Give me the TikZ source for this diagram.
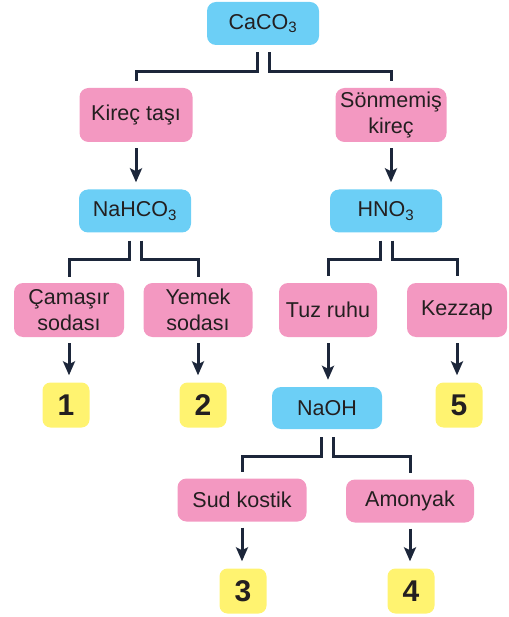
\documentclass[tikz,border=0pt]{standalone}
\usepackage{fontspec}
\setmainfont{Liberation Sans}
\usepackage{xcolor}
\usetikzlibrary{arrows.meta}
\definecolor{boxblue}{RGB}{108,207,246}
\definecolor{boxpink}{RGB}{243,152,193}
\definecolor{boxyellow}{RGB}{255,243,112}
\definecolor{linkcol}{RGB}{28,38,58}
\definecolor{textcol}{RGB}{35,31,32}

\begin{document}
\begin{tikzpicture}[x=1pt,y=-1pt,
    box/.style={rounded corners=9pt, inner sep=0pt, align=center, text=textcol, font=\fontsize{21.5}{26}\selectfont},
    chem/.style={box, fill=boxblue, minimum width=112pt, minimum height=43pt},
    common/.style={box, fill=boxpink, minimum height=54pt},
    num/.style={box, fill=boxyellow, minimum width=47pt, minimum height=45pt, rounded corners=8pt, font=\fontsize{30}{30}\selectfont\bfseries},
    link/.style={draw=linkcol, line width=3pt},
    flow/.style={link, -{Stealth[length=14pt,width=12pt,inset=3pt]}, shorten <=6pt, shorten >=7pt}]
                        \useasboundingbox (0,0) rectangle (508,617);
                        \node[chem] (caco3) at (263, 23.5) {CaCO\textsubscript{3}};
                        \node[common, minimum width=113pt] (kirec) at (136, 115) {Kireç taşı};
                        \node[common, minimum width=111pt] (sonm) at (391, 115) {Sönmemiş\\kireç};
                        \node[chem] (nahco3) at (135, 211) {NaHCO\textsubscript{3}};
                        \node[chem] (hno3) at (386, 211) {HNO\textsubscript{3}};
                        \node[common, minimum width=110pt] (cam) at (69, 310) {Çamaşır\\sodası};
                        \node[common, minimum width=109pt] (yemek) at (198, 310) {Yemek\\sodası};
                        \node[common, minimum width=98pt] (tuz) at (328, 310) {Tuz ruhu};
                        \node[common, minimum width=100pt] (kezzap) at (457, 310) {Kezzap};
                        \node[num] (n1) at (66, 405) {1};
                        \node[num] (n2) at (203, 405) {2};
                        \node[num] (n5) at (459, 405) {5};
                        \node[chem, minimum width=110pt, minimum height=42pt] (naoh) at (327, 408) {NaOH};
                        \node[common, minimum width=129pt, minimum height=43pt] (sud) at (242, 500) {Sud kostik};
                        \node[common, minimum width=128pt, minimum height=43pt] (amonyak) at (410, 501) {Amonyak};
                        \node[num] (n3) at (243, 591) {3};
                        \node[num] (n4) at (411, 591) {4};
                        % branches
                        \draw[link] ([xshift=-6pt,yshift=-7pt]caco3.south) -- ++(0,19) -| ([yshift=7pt]kirec.north);
                        \draw[link] ([xshift=6pt,yshift=-7pt]caco3.south) -- ++(0,19) -| ([yshift=7pt]sonm.north);
                        \draw[link] ([xshift=-6pt,yshift=-8pt]nahco3.south) -- ++(0,19) -| ([yshift=6pt]cam.north);
                        \draw[link] ([xshift=6pt,yshift=-8pt]nahco3.south) -- ++(0,19) -| ([yshift=6pt]yemek.north);
                        \draw[link] ([xshift=-6pt,yshift=-8pt]hno3.south) -- ++(0,19) -| ([yshift=7pt]tuz.north);
                        \draw[link] ([xshift=6pt,yshift=-8pt]hno3.south) -- ++(0,19) -| ([yshift=7pt]kezzap.north);
                        \draw[link] ([xshift=-6pt,yshift=-8pt]naoh.south) -- ++(0,19) -| ([yshift=6pt]sud.north);
                        \draw[link] ([xshift=6pt,yshift=-8pt]naoh.south) -- ++(0,19) -| ([yshift=6pt]amonyak.north);
                        % arrows
                        \draw[flow] (kirec.south) -- (kirec.south |- nahco3.north);
                        \draw[flow] (sonm.south) -- (sonm.south |- hno3.north);
                        \draw[flow] (cam.south) -- (cam.south |- n1.north);
                        \draw[flow] (yemek.south) -- (yemek.south |- n2.north);
                        \draw[flow] (tuz.south) -- (tuz.south |- naoh.north);
                        \draw[flow] (kezzap.south) -- (kezzap.south |- n5.north);
                        \draw[flow] (sud.south) -- (sud.south |- n3.north);
                        \draw[flow] (amonyak.south) -- (amonyak.south |- n4.north);
                        \end{tikzpicture}
\end{document}
